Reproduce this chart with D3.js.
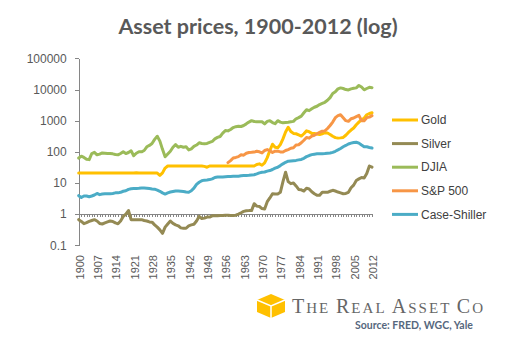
<!DOCTYPE html>
<html>
<head>
<meta charset="utf-8">
<script src="https://cdn.jsdelivr.net/npm/d3@7/dist/d3.min.js"></script>
<style>
  body { margin: 0; background: #fff; }
  svg { display: block; }
</style>
</head>
<body>
<svg id="chart"></svg>
<script>
const years = d3.range(1900, 2013);
const labelYears = [1900, 1907, 1914, 1921, 1928, 1935, 1942, 1949, 1956, 1963, 1970, 1977, 1984, 1991, 1998, 2005, 2012];
const yTicks = [0.1, 1, 10, 100, 1000, 10000, 100000];

// one value per year, 1900-2012
const gold = [
  20.7, 20.7, 20.7, 20.7, 20.7, 20.7, 20.7, 20.7, 20.7, 20.7,
  20.7, 20.7, 20.7, 20.7, 20.7, 20.7, 20.7, 20.7, 20.7, 20.7,
  20.7, 20.7, 21.2, 20.7, 20.7, 20.7, 20.7, 20.7, 20.7, 20.7,
  20.7, 17.5, 21, 30, 35, 35, 35, 35, 35, 35,
  35, 35, 35, 35, 35, 35, 35, 35, 34, 32,
  35, 35, 35, 35, 35, 35, 35, 35, 35, 35,
  35, 35, 35, 35, 35, 35, 35, 35, 39, 41,
  37, 44, 65, 110, 175, 140, 135, 170, 260, 430,
  615, 450, 390, 380, 350, 320, 380, 470, 440, 390,
  385, 375, 360, 380, 410, 400, 360, 315, 285, 275,
  280, 290, 340, 420, 500, 580, 740, 900, 1080, 1200,
  1550, 1700, 1800
];
const silver = [
  0.66, 0.58, 0.49, 0.53, 0.58, 0.62, 0.66, 0.6, 0.5, 0.48,
  0.52, 0.56, 0.6, 0.58, 0.52, 0.49, 0.6, 0.84, 1.0, 1.3,
  0.66, 0.66, 0.66, 0.66, 0.66, 0.62, 0.6, 0.56, 0.55, 0.45,
  0.38, 0.31, 0.24, 0.38, 0.48, 0.6, 0.5, 0.45, 0.42, 0.36,
  0.35, 0.35, 0.42, 0.45, 0.47, 0.6, 0.84, 0.72, 0.74, 0.8,
  0.8, 0.88, 0.88, 0.88, 0.9, 0.9, 0.92, 0.92, 0.9, 0.9,
  0.92, 1.0, 1.1, 1.22, 1.28, 1.29, 1.29, 2.15, 1.8, 1.75,
  1.5, 1.45, 2.5, 3.3, 4.5, 4.4, 4.4, 5.0, 11, 22,
  11, 9.5, 10, 8, 6.2, 6.0, 5.5, 6.8, 6.4, 5.2,
  4.5, 4.0, 4.0, 5.0, 5.0, 5.0, 5.4, 5.8, 5.5, 5.1,
  4.8, 4.5, 4.6, 5.0, 7.0, 8.5, 12, 13.5, 15, 14.5,
  20, 35, 32
];
const djia = [
  63, 72, 66, 58, 56, 88, 96, 80, 84, 92,
  90, 88, 88, 86, 82, 80, 88, 100, 88, 95,
  108, 75, 90, 100, 100, 110, 145, 160, 185, 250,
  316, 220, 120, 69, 85, 104, 140, 170, 140, 150,
  140, 145, 115, 125, 150, 165, 195, 185, 180, 185,
  200, 215, 260, 290, 310, 400, 480, 470, 520, 600,
  640, 660, 650, 700, 790, 900, 1000, 940, 930, 930,
  920, 790, 950, 1000, 870, 800, 1000, 900, 850, 870,
  890, 920, 950, 1150, 1250, 1400, 1800, 2250, 2100, 2400,
  2700, 2900, 3300, 3600, 3900, 4500, 5500, 7500, 8500, 10500,
  11300, 10800, 10000, 9700, 10500, 11000, 11300, 13500, 12000, 9800,
  10800, 11800, 11500
];
// S&P 500 starts in 1957
const sp500Start = 1957;
const sp500 = [
  45, 52, 63,
  66, 70, 80, 78, 90, 95, 96, 98, 104, 100,
  92, 110, 118, 108, 95, 105, 105, 99, 98, 110,
  118, 130, 135, 165, 168, 195, 235, 290, 275, 320,
  340, 380, 420, 460, 470, 560, 700, 900, 1250, 1450,
  1550, 1250, 1000, 950, 1150, 1220, 1350, 1480, 1000, 1000,
  1250, 1300, 1450
];
const caseShiller = [
  3.9, 3.4, 3.8, 3.8, 3.6, 3.8, 4.1, 4.6, 4.2, 4.4,
  4.5, 4.5, 4.5, 4.6, 4.8, 4.8, 5.0, 5.4, 5.6, 6.2,
  6.5, 6.6, 6.6, 6.7, 6.9, 6.9, 6.8, 6.6, 6.4, 6.3,
  5.9, 5.4, 4.8, 4.4, 4.8, 5.1, 5.3, 5.5, 5.5, 5.4,
  5.3, 5.1, 5.0, 5.6, 6.8, 9.0, 10.5, 11.8, 12.3, 12.5,
  12.8, 13.5, 15.0, 15.5, 15.5, 15.6, 15.8, 16.0, 16.1, 16.3,
  16.3, 16.5, 17.0, 17.2, 17.4, 17.6, 18.0, 18.3, 19.5, 21.0,
  22, 22.5, 24, 25, 27, 30, 32, 36, 41, 46,
  50, 51, 52, 53, 55, 57, 62, 70, 76, 81,
  84, 86, 86, 87, 88, 90, 92, 96, 104, 115,
  128, 145, 160, 178, 190, 200, 203, 190, 165, 145,
  145, 138, 132
];

const seriesNames = ["Gold", "Silver", "DJIA", "S&P 500", "Case-Shiller"];
const seriesColors = ["#FFC000", "#948A54", "#9BBB59", "#F79646", "#4BACC6"];

const series = [
  years.map((yr, i) => ({ year: yr, value: gold[i] })),
  years.map((yr, i) => ({ year: yr, value: silver[i] })),
  years.map((yr, i) => ({ year: yr, value: djia[i] })),
  sp500.map((v, i) => ({ year: sp500Start + i, value: v })),
  years.map((yr, i) => ({ year: yr, value: caseShiller[i] }))
];

const width = 517, height = 350;
const axisColor = "#868686", textColor = "#595959";

const svg = d3.select("#chart")
  .attr("width", width)
  .attr("height", height);

const x = d3.scalePoint().domain(years).range([78.7, 372]);
const y = d3.scaleLog().domain([0.1, 100000]).range([245.2, 58.4]);

// Title
svg.append("text")
  .attr("x", 258)
  .attr("y", 34)
  .attr("text-anchor", "middle")
  .attr("fill", textColor)
  .style("font", "bold 21.5px Lato")
  .text("Asset prices, 1900-2012 (log)");

// Y axis (log)
const yAxis = svg.append("g")
  .attr("transform", "translate(78.7,0)")
  .call(d3.axisLeft(y)
    .tickValues(yTicks)
    .tickFormat(d => String(d))
    .tickSize(4)
    .tickSizeOuter(0)
    .tickPadding(8));

// X axis crosses at 1, a tick on every year
const xAxis = svg.append("g")
  .attr("transform", `translate(0,${y(1)})`)
  .call(d3.axisBottom(x)
    .tickValues(years)
    .tickFormat("")
    .tickSize(3)
    .tickSizeOuter(0));

svg.selectAll(".domain, .tick line")
  .attr("stroke", axisColor)
  .attr("shape-rendering", "crispEdges");

yAxis.selectAll("text")
  .attr("fill", textColor)
  .style("font", "12px 'Liberation Sans'");

// Year labels sit at the bottom, rotated
svg.append("g")
  .selectAll("text")
  .data(labelYears)
  .join("text")
  .attr("transform", d => `translate(${x(d) + 1},255) rotate(-90)`)
  .attr("text-anchor", "end")
  .attr("dy", "0.35em")
  .attr("fill", textColor)
  .style("font", "11px 'Liberation Sans'")
  .text(d => d);

// Lines
const line = d3.line()
  .x(d => x(d.year))
  .y(d => y(d.value));

svg.append("g")
  .selectAll("path")
  .data(series)
  .join("path")
  .attr("d", line)
  .attr("fill", "none")
  .attr("stroke", (d, i) => seriesColors[i])
  .attr("stroke-width", 3)
  .attr("stroke-linejoin", "round")
  .attr("stroke-linecap", "round");

// Legend
const legend = svg.append("g")
  .selectAll("g")
  .data(seriesNames)
  .join("g")
  .attr("transform", (d, i) => `translate(392,${120 + i * 23.6})`);

legend.append("line")
  .attr("x1", 0)
  .attr("x2", 26)
  .attr("stroke", (d, i) => seriesColors[i])
  .attr("stroke-width", 3);

legend.append("text")
  .attr("x", 29)
  .attr("dy", "0.35em")
  .attr("fill", "#404040")
  .style("font", "12px 'Liberation Sans'")
  .text(d => d);

// Logo: cube + name
const logo = svg.append("g");
logo.append("polygon")
  .attr("points", "271,294 285,300 285,312 271,318 257,312 257,300")
  .attr("fill", "#FFC000");
logo.append("path")
  .attr("d", "M257,300 L271,306 L285,300 M271,306 L271,318")
  .attr("stroke", "#fff")
  .attr("stroke-width", 1.5)
  .attr("fill", "none");

const name = logo.append("text")
  .attr("x", 292)
  .attr("y", 313)
  .attr("fill", "#666")
  .attr("textLength", 191)
  .attr("lengthAdjust", "spacing")
  .style("font-family", "'Liberation Serif'");
[["T", 20], ["HE ", 15], ["R", 20], ["EAL ", 15], ["A", 20], ["SSET ", 15], ["C", 20], ["O", 15]]
  .forEach(([t, s]) => name.append("tspan").style("font-size", s + "px").text(t));

svg.append("text")
  .attr("x", 355)
  .attr("y", 329)
  .attr("fill", "#56677d")
  .style("font", "bold 10.5px Lato")
  .text("Source: FRED, WGC, Yale");
</script>
</body>
</html>
